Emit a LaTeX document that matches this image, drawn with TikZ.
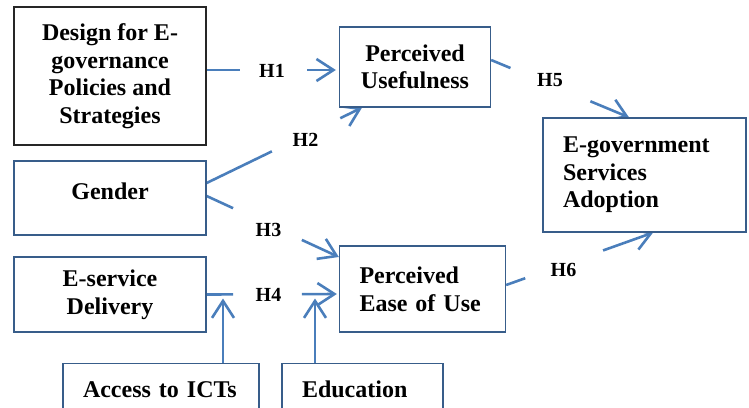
\documentclass[tikz,border=0pt]{standalone}
\usepackage{fontspec}
\setmainfont{Liberation Serif}
\usetikzlibrary{calc,arrows.meta,backgrounds}
\definecolor{boxline}{HTML}{385D8A}
\definecolor{linkblue}{HTML}{4A7EBB}
\begin{document}
\begin{tikzpicture}[x=1pt,y=-1pt,
        box/.style={draw=boxline,line width=1.3pt,fill=white,inner sep=0pt,align=center,
            font=\fontsize{24}{27.6}\selectfont\bfseries},
        leftbox/.style={box,align=left,inner xsep=20pt},
        hyp/.style={font=\fontsize{20}{24}\selectfont\bfseries},
        link/.style={draw=linkblue,line width=2.6pt},
        tip/.style={-{Straight Barb[length=17pt,width=22pt]}}]
    \clip (0,0) rectangle (749,407);
    % boxes
    \node[box,draw=black!85,line width=1.5pt,minimum width=192pt,minimum height=138pt] (design) at (110,76)
        {Design for E-\\governance\\Policies and\\Strategies};
    \node[box,minimum width=192pt,minimum height=74pt,text depth=14.6pt] (gender) at (110,198) {Gender};
    \node[box,minimum width=192pt,minimum height=75pt] (eserv) at (110,294.5) {E-service\\Delivery};
    \node[leftbox,text width=156pt,minimum height=52pt,anchor=north] (access) at (161,363) {Access to ICTs};
    \node[leftbox,text width=121pt,minimum height=52pt,anchor=north] (edu) at (362.5,363) {Education};
    \node[box,minimum width=151pt,minimum height=80pt] (pu) at (415,67) {Perceived\\Usefulness};
    \node[leftbox,text width=126pt,minimum height=86pt] (peou) at (422.5,289) {Perceived\\Ease of Use};
    \node[leftbox,text width=163pt,minimum height=114pt] (eg) at (644.5,175) {E-government\\Services\\Adoption};
    % hypothesis labels
    \node[hyp] (h1) at (272,71) {H1};
    \node[hyp] (h2) at (305.5,140) {H2};
    \node[hyp] (h3) at (268.5,229.5) {H3};
    \node[hyp] (h4) at (268.5,295) {H4};
    \node[hyp] (h5) at (550,80) {H5};
    \node[hyp] (h6) at (563.5,269.5) {H6};
    % links, behind the boxes
    \begin{scope}[on background layer]
        \coordinate (s1) at ([yshift=6pt]design.east);   \coordinate (t1) at ([yshift=-3pt]pu.west);
        \coordinate (s2) at ([yshift=15pt]gender.east);  \coordinate (t2) at ([xshift=-53pt]pu.south);
        \coordinate (s3) at ([yshift=2pt]gender.east);   \coordinate (t3) at ([yshift=32pt]peou.west);
        \coordinate (s4) at (eserv.east);                \coordinate (t4) at ([yshift=-5pt]peou.west);
        \coordinate (s5) at ([yshift=7pt]pu.east);       \coordinate (t5) at ([xshift=-15.5pt]eg.north);
        \coordinate (s6) at ([yshift=4pt]peou.east);     \coordinate (t6) at ([xshift=8.5pt]eg.south);
        \draw[link] (s1) -- ($(s1)!0.248!(t1)$);
        \draw[link,tip,shorten >=3pt] ($(s1)!0.76!(t1)$) -- (t1);
        \draw[link] (s2) -- ($(s2)!0.42!(t2)$);
        \draw[link,tip] ($(s2)!0.86!(t2)$) -- (t2);
        \draw[link] (s3) -- ($(s3)!0.2!(t3)$);
        \draw[link,tip] ($(s3)!0.72!(t3)$) -- (t3);
        \draw[link] (s4) -- ($(s4)!0.2!(t4)$);
        \draw[link,tip,shorten >=2pt] ($(s4)!0.72!(t4)$) -- (t4);
        \draw[link] (s5) -- ($(s5)!0.14!(t5)$);
        \draw[link,tip] ($(s5)!0.72!(t5)$) -- (t5);
        \draw[link] (s6) -- ($(s6)!0.13!(t6)$);
        \draw[link,tip] ($(s6)!0.66!(t6)$) -- (t6);
        \draw[link,tip,shorten >=4pt] ([xshift=62pt]access.north) -- ([xshift=62pt]access.north |- s4);
        \draw[link,tip,shorten >=4pt] ([xshift=-47.5pt]edu.north) -- ([xshift=-47.5pt]edu.north |- s4);
    \end{scope}
\end{tikzpicture}
\end{document}
